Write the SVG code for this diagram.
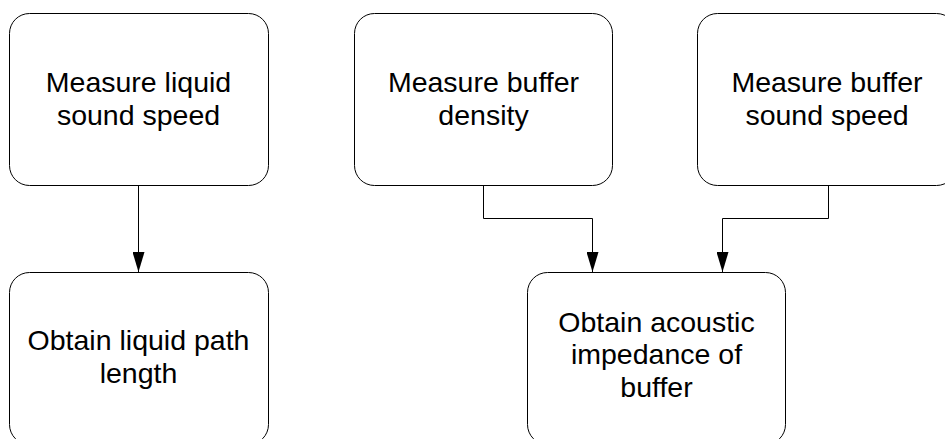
<svg xmlns="http://www.w3.org/2000/svg" width="945" height="439" viewBox="0 0 945 439">
  <style>
    .box { fill: #ffffff; stroke: #000000; stroke-width: 1; }
    .lbl { font-family: "Liberation Sans", Arial, sans-serif; font-size: 28.5px; fill: #000000; text-anchor: middle; }
    .wire { fill: none; stroke: #000000; stroke-width: 1; }
  </style>
  <defs>
    <marker id="arrow" markerWidth="20" markerHeight="12" refX="20" refY="6" orient="auto" markerUnits="userSpaceOnUse" viewBox="0 0 20 12">
      <path d="M0,0 L20,6 L0,12 Z" fill="#000000"/>
    </marker>
  </defs>
  <rect width="945" height="439" fill="#ffffff"/>

  <g id="liquid-speed">
    <rect class="box" x="9.5" y="13.5" width="259" height="172" rx="20" ry="20"/>
    <text class="lbl" x="138.5" y="92">Measure liquid</text>
    <text class="lbl" x="138.5" y="125">sound speed</text>
  </g>

  <g id="buffer-density">
    <rect class="box" x="354.5" y="13.5" width="258" height="172" rx="20" ry="20"/>
    <text class="lbl" x="483.5" y="92">Measure buffer</text>
    <text class="lbl" x="483.5" y="125">density</text>
  </g>

  <g id="buffer-speed">
    <rect class="box" x="697.5" y="13.5" width="259" height="172" rx="20" ry="20"/>
    <text class="lbl" x="827" y="92">Measure buffer</text>
    <text class="lbl" x="827" y="125">sound speed</text>
  </g>

  <g id="liquid-path">
    <rect class="box" x="9.5" y="272.5" width="259" height="172" rx="20" ry="20"/>
    <text class="lbl" x="138.5" y="350">Obtain liquid path</text>
    <text class="lbl" x="138.5" y="383">length</text>
  </g>

  <g id="buffer-impedance">
    <rect class="box" x="527.5" y="272.5" width="258" height="172" rx="20" ry="20"/>
    <text class="lbl" x="656.5" y="331.5">Obtain acoustic</text>
    <text class="lbl" x="656.5" y="364">impedance of</text>
    <text class="lbl" x="656.5" y="396.5">buffer</text>
  </g>

  <g id="connectors">
    <path class="wire" d="M138.5,186 V272" marker-end="url(#arrow)"/>
    <path class="wire" d="M483.5,186 V218.5 H592.5 V272" marker-end="url(#arrow)"/>
    <path class="wire" d="M828.5,186 V218.5 H722.5 V272" marker-end="url(#arrow)"/>
  </g>
</svg>
